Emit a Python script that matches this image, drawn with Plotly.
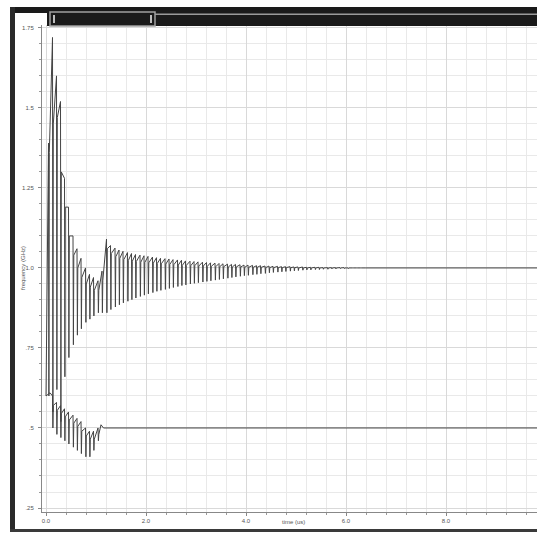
import plotly.graph_objects as go

# ---------------- data ----------------
# upper trace (frequency, GHz) : spikes before the jump
up_t1 = [0.05, 0.13, 0.21, 0.29, 0.37, 0.45, 0.54, 0.62, 0.70, 0.79, 0.87, 0.95, 1.04, 1.12]
up_hi1 = [1.39, 1.72, 1.60, 1.52, 1.28, 1.19, 1.10, 1.06, 1.03, 1.00, 0.98, 0.97, 0.96, 0.99]
up_lo1 = [0.60, 0.55, 0.62, 0.52, 0.66, 0.72, 0.76, 0.79, 0.81, 0.83, 0.84, 0.85, 0.86, 0.86]
up_base1 = [1.36, 1.45, 1.47, 1.30, 1.19, 1.10, 1.04, 1.00, 0.97, 0.95, 0.94, 0.93, 0.93, 0.96]

# upper trace : spikes after the jump (settling toward 1.0)
up_t2 = [1.21, 1.29, 1.38, 1.46, 1.54, 1.63, 1.71, 1.79, 1.88, 1.96,
         2.04, 2.13, 2.21, 2.29, 2.38, 2.46, 2.54, 2.63, 2.71, 2.79,
         2.88, 2.96, 3.04, 3.13, 3.21, 3.29, 3.38, 3.46, 3.54, 3.63,
         3.71, 3.79, 3.88, 3.96, 4.04, 4.13, 4.21, 4.29, 4.38, 4.46,
         4.54, 4.63, 4.71, 4.79, 4.88, 4.96, 5.04, 5.13, 5.21, 5.29,
         5.38, 5.46, 5.54, 5.63, 5.71, 5.79, 5.88, 5.96, 6.04, 6.13,
         6.21, 6.29, 6.38, 6.46]
up_hi2 = [1.09, 1.07, 1.062, 1.056, 1.052, 1.048, 1.045, 1.042, 1.04, 1.038,
          1.036, 1.034, 1.032, 1.03, 1.029, 1.028, 1.026, 1.025, 1.024, 1.022,
          1.021, 1.02, 1.019, 1.018, 1.017, 1.016, 1.015, 1.014, 1.013, 1.012,
          1.011, 1.011, 1.010, 1.009, 1.009, 1.008, 1.007, 1.007, 1.006, 1.006,
          1.005, 1.005, 1.004, 1.004, 1.004, 1.003, 1.003, 1.003, 1.002, 1.002,
          1.002, 1.002, 1.001, 1.001, 1.001, 1.001, 1.001, 1.001, 1.0, 1.0,
          1.0, 1.0, 1.0, 1.0]
up_lo2 = [0.86, 0.87, 0.878, 0.885, 0.891, 0.896, 0.901, 0.906, 0.911, 0.915,
          0.919, 0.923, 0.927, 0.930, 0.933, 0.936, 0.939, 0.942, 0.945, 0.947,
          0.950, 0.952, 0.954, 0.956, 0.958, 0.960, 0.962, 0.964, 0.966, 0.968,
          0.970, 0.972, 0.974, 0.976, 0.977, 0.979, 0.980, 0.982, 0.983, 0.985,
          0.986, 0.987, 0.988, 0.989, 0.990, 0.991, 0.992, 0.993, 0.994, 0.994,
          0.995, 0.995, 0.996, 0.996, 0.997, 0.997, 0.998, 0.998, 0.998, 0.999,
          0.999, 0.999, 0.999, 1.0]
up_base2 = [1.06, 1.045, 1.035, 1.03, 1.026, 1.023, 1.021, 1.02, 1.018, 1.017,
            1.016, 1.015, 1.014, 1.013, 1.012, 1.011, 1.01, 1.009, 1.008, 1.008,
            1.007, 1.007, 1.006, 1.006, 1.005, 1.005, 1.004, 1.004, 1.004, 1.003,
            1.003, 1.003, 1.003, 1.002, 1.002, 1.002, 1.002, 1.002, 1.001, 1.001,
            1.001, 1.001, 1.001, 1.001, 1.001, 1.001, 1.0, 1.0, 1.0, 1.0,
            1.0, 1.0, 1.0, 1.0, 1.0, 1.0, 1.0, 1.0, 1.0, 1.0,
            1.0, 1.0, 1.0, 1.0]
up_start = (0.0, 0.60)
up_end = (9.9, 1.0)

# lower trace
lo_t = [0.13, 0.21, 0.29, 0.37, 0.45, 0.54, 0.62, 0.70, 0.79, 0.87, 0.95, 1.04]
lo_hi = [0.60, 0.58, 0.57, 0.56, 0.55, 0.54, 0.53, 0.52, 0.50, 0.49, 0.49, 0.50]
lo_lo = [0.50, 0.48, 0.47, 0.46, 0.45, 0.44, 0.43, 0.42, 0.41, 0.41, 0.43, 0.46]
lo_base = [0.57, 0.555, 0.545, 0.535, 0.525, 0.515, 0.505, 0.49, 0.475, 0.465, 0.465, 0.48]
lo_head_t = [0.0, 0.08]
lo_head_v = [0.60, 0.61]
lo_tail_t = [1.10, 1.15, 9.9]
lo_tail_v = [0.51, 0.50, 0.50]

x_ticks = [0, 2, 4, 6, 8]
x_ticktext = ["0.0", "2.0", "4.0", "6.0", "8.0"]
y_ticks = [0.25, 0.5, 0.75, 1.0, 1.25, 1.5, 1.75]
y_ticktext = [".25", ".5", ".75", "1.0", "1.25", "1.5", "1.75"]


def spikes(ts, his, los, bases, dt=0.008):
    xs, ys = [], []
    for t, h, l, b in zip(ts, his, los, bases):
        xs += [t, t + dt, t + 2 * dt]
        ys += [h, l, b]
    return xs, ys


ux = [up_start[0]]
uy = [up_start[1]]
a, b = spikes(up_t1, up_hi1, up_lo1, up_base1)
ux += a; uy += b
a, b = spikes(up_t2, up_hi2, up_lo2, up_base2)
ux += a; uy += b
ux.append(up_end[0]); uy.append(up_end[1])

lx = list(lo_head_t)
ly = list(lo_head_v)
a, b = spikes(lo_t, lo_hi, lo_lo, lo_base)
lx += a; ly += b
lx += lo_tail_t; ly += lo_tail_v

LINE = "#444444"
fig = go.Figure()
fig.add_trace(go.Scatter(x=ux, y=uy, mode="lines", line=dict(color=LINE, width=1), showlegend=False))
fig.add_trace(go.Scatter(x=lx, y=ly, mode="lines", line=dict(color=LINE, width=1), showlegend=False))

W, H = 537, 533
L, R, T, B = 42, 0, 25, 21
pw, ph = W - L - R, H - T - B


def px(x):
    return (x - L) / pw


def py(y):
    return (H - B - y) / ph


tickfont = dict(family="Liberation Sans, Arial, sans-serif", size=6, color="#555")
fig.update_layout(
    width=W, height=H,
    margin=dict(l=L, r=R, t=T, b=B),
    paper_bgcolor="white", plot_bgcolor="white",
    xaxis=dict(range=[-0.08, 9.82], tickvals=x_ticks, ticktext=x_ticktext,
               ticks="outside", ticklen=3, tickcolor="#888", tickfont=tickfont,
               showgrid=True, gridcolor="#d9d9d9", gridwidth=1,
               minor=dict(dtick=0.4, tick0=0, showgrid=True, gridcolor="#e9e9e9",
                          ticks="outside", ticklen=2, tickcolor="#999"),
               showline=True, linecolor="#888", zeroline=False, fixedrange=True),
    yaxis=dict(range=[0.2375, 1.759], tickvals=y_ticks, ticktext=y_ticktext,
               ticks="outside", ticklen=3, tickcolor="#888", tickfont=tickfont,
               ticklabelstandoff=3,
               showgrid=True, gridcolor="#d9d9d9", gridwidth=1,
               minor=dict(dtick=0.05, tick0=0, showgrid=True, gridcolor="#e9e9e9",
                          ticks="outside", ticklen=2, tickcolor="#999"),
               showline=True, linecolor="#888", zeroline=False, fixedrange=True),
)

fig.add_annotation(text="frequency (GHz)", x=px(18), y=py(268), xref="paper", yref="paper",
                   textangle=-90, showarrow=False, font=tickfont)
fig.add_annotation(text="time (us)", x=px(293), y=py(527), xref="paper", yref="paper",
                   showarrow=False, font=tickfont)

shapes = []
def rect(x0, y0, x1, y1, fill, line_color=None, lw=0):
    shapes.append(dict(type="rect", xref="paper", yref="paper",
                       x0=px(x0), x1=px(x1), y0=py(y1), y1=py(y0),
                       fillcolor=fill, line=dict(color=line_color or fill, width=lw), layer="above"))

rect(10, 7, 537, 13, "#1a1a1a")
rect(47, 13, 537, 26, "#1a1a1a")
rect(155, 13.5, 537, 15, "#9a9a9a")
rect(10, 7, 15, 531, "#2a2a2a")
rect(10, 529, 537, 532, "#3a3a3a")
rect(50, 12, 155, 26, "#1a1a1a", "#a0a0a0", 1.5)
rect(53, 15, 55, 23, "#bdbdbd")
rect(150, 15, 152, 23, "#bdbdbd")
fig.update_layout(shapes=shapes)

fig.write_html(
    "out.html",
    config={"displayModeBar": False},
    post_script="document.body.style.margin='0px';document.documentElement.style.overflow='hidden';document.body.style.overflow='hidden';",
)
